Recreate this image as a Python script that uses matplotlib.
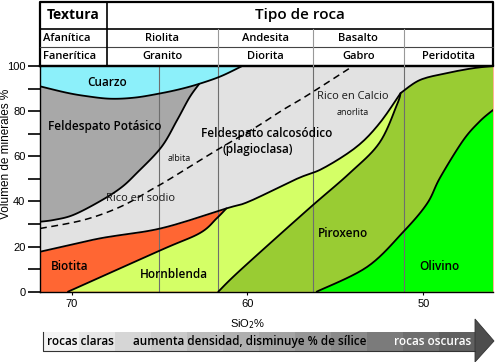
import numpy as np
import matplotlib
matplotlib.use('Agg')
import matplotlib.pyplot as plt
from matplotlib.patches import Polygon, Rectangle

# boundaries: x = SiO2 %, y = volume of minerals %
qz_x = [71.79, 70.3, 69.2, 67.8, 66.4, 65.0, 63.8, 62.7, 61.5, 60.3]
qz_y = [91.0, 88.2, 86.7, 85.5, 86.0, 87.8, 89.8, 92.2, 95.5, 100.0]

kf_x = [71.79, 71.0, 69.9, 68.4, 67.2, 66.3, 64.9, 64.0, 63.3, 62.75]
kf_y = [31.0, 31.8, 34.0, 40.0, 46.0, 52.5, 64.0, 76.0, 86.0, 92.0]

dash_x = [71.79, 69.3, 67.2, 65.4, 64.4, 61.9, 59.5, 58.0, 56.6, 54.0]
dash_y = [28.0, 31.8, 37.7, 45.5, 50.0, 62.0, 73.0, 80.5, 87.0, 100.0]

pl_x = [71.79, 68.4, 64.9, 61.2, 59.9, 57.2, 55.7, 53.8, 52.5, 51.3, 50.2, 48.7, 47.2, 46.05]
pl_y = [17.7, 23.6, 28.1, 36.9, 40.0, 50.0, 54.7, 64.2, 74.6, 88.0, 93.8, 96.8, 99.0, 100.0]

hb_x = [70.2, 64.9, 62.7, 61.75, 61.2]
hb_y = [0.0, 18.5, 26.0, 32.5, 36.9]

px_x = [61.66, 60.4, 56.6, 54.2, 52.5, 51.5, 51.3]
px_y = [0.0, 9.6, 36.2, 52.5, 66.0, 83.0, 88.0]

ol_x = [56.07, 53.2, 51.15, 49.8, 49.06, 47.75, 46.8, 46.05]
ol_y = [0.0, 11.0, 26.5, 39.0, 50.5, 67.0, 75.5, 80.5]

grid_x = [65.0, 61.7, 56.3, 51.1]

# table
col_edges = [68.0, 61.7, 56.3, 51.1, 46.05]
afaniticas = ['Riolita', 'Andesita', 'Basalto', '']
faneriticas = ['Granito', 'Diorita', 'Gabro', 'Peridotita']

labels = [
    ('Cuarzo', 67.98, 92.5),
    ('Feldespato Potásico', 68.1, 73.4),
    ('Feldespato calcosódico', 58.9, 69.9),
    ('(plagioclasa)', 59.4, 63.2),
    ('Biotita', 70.1, 11.0),
    ('Hornblenda', 64.2, 7.4),
    ('Piroxeno', 54.6, 25.6),
    ('Olivino', 49.1, 11.0),
]

c_qz = '#8cf0fa'
c_kf = '#a8a8a8'
c_pl = '#e2e2e2'
c_bt = '#ff6633'
c_hb = '#d4ff66'
c_px = '#99cc33'
c_ol = '#00ff00'

fnt = 'Open Sans'
tick_fnt = ['Liberation Sans Narrow', 'Liberation Sans']


def smooth(xs, ys, corner=None, n=10):
    # catmull-rom through the read points, only for drawing rounder curves
    if corner is not None:
        a = smooth(xs[:corner + 1], ys[:corner + 1], n=n)
        b = smooth(xs[corner:], ys[corner:], n=n)
        return np.vstack([a[:-1], b])
    pts = np.column_stack([xs, ys]).astype(float)
    p = np.vstack([pts[0], pts, pts[-1]])
    t = np.linspace(0, 1, n, endpoint=False)[:, None]
    out = []
    for i in range(1, len(p) - 2):
        p0, p1, p2, p3 = p[i - 1], p[i], p[i + 1], p[i + 2]
        out.append(0.5 * (2 * p1 + (p2 - p0) * t + (2 * p0 - 5 * p1 + 4 * p2 - p3) * t ** 2
                          + (3 * p1 - p0 - 3 * p2 + p3) * t ** 3))
    out.append(pts[-1:])
    return np.vstack(out)


qz = smooth(qz_x, qz_y)
kf = smooth(kf_x, kf_y)
dsh = smooth(dash_x, dash_y)
pl = smooth(pl_x, pl_y, corner=pl_x.index(51.3))
hb = smooth(hb_x, hb_y)
px = smooth(px_x, px_y)
ol = smooth(ol_x, ol_y)

fig = plt.figure(figsize=(4.95, 3.62), dpi=100)
ax = fig.add_axes([40 / 495, 1 - 291.7 / 362, 453 / 495, 225.7 / 362])
ax.set_xlim(71.79, 46.05)
ax.set_ylim(0, 100)
ax.set_facecolor(c_pl)

# upper minerals
kpoly = np.vstack([kf, [[kf_x[-1], 100], [kf_x[0], 100]]])
ax.add_patch(Polygon(kpoly, closed=True, fc=c_kf, ec='none', zorder=1))
ax.fill_between(qz[:, 0], qz[:, 1], 100, color=c_qz, lw=0, zorder=1.5)

# lower minerals
ax.fill_between(pl[:, 0], 0, pl[:, 1], color=c_bt, lw=0, zorder=1)
hpoly = np.vstack([hb, pl[pl[:, 0] < hb_x[-1] - 1e-6], [[pl_x[-1], 0]]])
ax.add_patch(Polygon(hpoly, closed=True, fc=c_hb, ec='none', zorder=1.2))
ppoly = np.vstack([px, pl[pl[:, 0] < px_x[-1] - 1e-6], [[pl_x[-1], 0]]])
ax.add_patch(Polygon(ppoly, closed=True, fc=c_px, ec='none', zorder=1.3))
opoly = np.vstack([ol, [[ol_x[-1], 0]]])
ax.add_patch(Polygon(opoly, closed=True, fc=c_ol, ec='none', zorder=1.4))

for gx in grid_x:
    ax.axvline(gx, color='#6e6e6e', lw=0.8, zorder=2)

for b in [qz, kf, pl, hb, px, ol]:
    ax.plot(b[:, 0], b[:, 1], color='black', lw=1.3, zorder=3, solid_capstyle='round')
ax.plot(dsh[:, 0], dsh[:, 1], color='black', lw=1.1, dashes=(4.5, 3), zorder=3)

for txt, x, y in labels:
    ax.text(x, y, txt, ha='center', va='center', fontsize=8.5, family=fnt,
            weight='semibold', zorder=4)
ax.text(63.9, 59.2, 'albita', ha='center', va='center', fontsize=6.5, family=fnt,
        color='#111111', zorder=4)
ax.text(54.0, 86.3, 'Rico en Calcio', ha='center', va='center', fontsize=8, family=fnt,
        color='#1a1a1a', zorder=4)
ax.text(54.0, 79.6, 'anorlita', ha='center', va='center', fontsize=6.5, family=fnt,
        color='#111111', zorder=4)
ax.text(66.1, 41.5, 'Rico en sodio', ha='center', va='center', fontsize=8, family=fnt,
        color='#1a1a1a', zorder=4)

# axes styling
ax.spines['right'].set_visible(False)
ax.spines['top'].set_linewidth(1.6)
ax.spines['left'].set_linewidth(1.0)
ax.spines['bottom'].set_linewidth(1.0)
for s in ax.spines.values():
    s.set_zorder(5)
ax.set_yticks([0, 20, 40, 60, 80, 100])
ax.set_yticks([10, 30, 50, 70, 90], minor=True)
ax.tick_params(axis='y', which='both', length=9, width=1.2, pad=1.5, labelsize=8)
ax.set_xticks([70, 60, 50])
ax.tick_params(axis='x', length=2.5, width=0.8, pad=3, labelsize=8)
for lab in ax.get_xticklabels() + ax.get_yticklabels():
    lab.set_family(tick_fnt)
ax.set_ylabel('Volumen de minerales %', family=tick_fnt, fontsize=8.5)
ax.yaxis.set_label_coords(-28 / 453, 0.61)
ax.set_xlabel('SiO$_2$%', family=tick_fnt, fontsize=8)
ax.xaxis.set_label_coords((248 - 40) / 453, -0.115)

# header table above the plot (data coords, unclipped)
top, r1, r2 = 128.4, 116.4, 108.4
kw = dict(clip_on=False, zorder=6)
ax.plot([71.79, 46.05, 46.05, 71.79, 71.79], [100, 100, top, top, 100], color='black', lw=1.6, **kw)
ax.plot([71.79, 46.05], [r1, r1], color='black', lw=1.2, **kw)
ax.plot([71.79, 46.05], [r2, r2], color='#444444', lw=0.8, **kw)
ax.plot([col_edges[0], col_edges[0]], [100, top], color='black', lw=1.2, **kw)
for ce in col_edges[1:-1]:
    ax.plot([ce, ce], [100, r1], color='#999999', lw=0.8, **kw)
ax.text((71.79 + col_edges[0]) / 2, (top + r1) / 2, 'Textura', ha='center', va='center',
        fontsize=10, family=fnt, weight='bold', clip_on=False)
ax.text((col_edges[0] + 46.05) / 2, (top + r1) / 2, 'Tipo de roca', ha='center', va='center',
        fontsize=11, family=fnt, weight='semibold', clip_on=False)
ax.text(71.6, (r1 + r2) / 2, 'Afanítica', ha='left', va='center', fontsize=8,
        family=fnt, weight='semibold', clip_on=False)
ax.text(71.6, (r2 + 100) / 2, 'Fanerítica', ha='left', va='center', fontsize=8,
        family=fnt, weight='semibold', clip_on=False)
for i in range(4):
    cx = (col_edges[i] + col_edges[i + 1]) / 2
    ax.text(cx, (r1 + r2) / 2, afaniticas[i], ha='center', va='center', fontsize=8,
            family=fnt, weight='semibold', clip_on=False)
    ax.text(cx, (r2 + 100) / 2, faneriticas[i], ha='center', va='center', fontsize=8,
            family=fnt, weight='semibold', clip_on=False)

# bottom arrow, drawn in pixel coords
ov = fig.add_axes([0, 0, 1, 1])
ov.set_xlim(0, 495)
ov.set_ylim(362, 0)
ov.axis('off')
ov.patch.set_alpha(0)
grays = ['#f3f3f3', '#e6e6e6', '#d6d6d6', '#cacaca', '#bdbdbd', '#b0b0b0',
         '#a3a3a3', '#969696', '#8a8a8a', '#7b7b7b', '#6e6e6e', '#606060']
bx0, bx1, by0, by1 = 43, 475, 331.5, 350.5
w = (bx1 - bx0) / len(grays)
for i, g in enumerate(grays):
    ov.add_patch(Rectangle((bx0 + i * w, by0), w + 0.3, by1 - by0, fc=g, ec='none'))
ov.plot([bx0, bx0, bx1], [by0, by1, by1], color='#333333', lw=0.8)
ov.add_patch(Polygon([(bx1, 319), (494, 341), (bx1, 362)], closed=True, fc='#4d4d4d', ec='#333333', lw=0.6))
ov.text(47, 341.5, 'rocas claras', ha='left', va='center', fontsize=8.5, family=fnt, weight='semibold')
ov.text(250, 341.5, 'aumenta densidad, disminuye % de sílice', ha='center', va='center',
        fontsize=8.5, family=fnt, weight='semibold')
ov.text(433, 341.5, 'rocas oscuras', ha='center', va='center', fontsize=8.5, family=fnt,
        weight='semibold', color='white')

fig.savefig('out.png', dpi=100)
